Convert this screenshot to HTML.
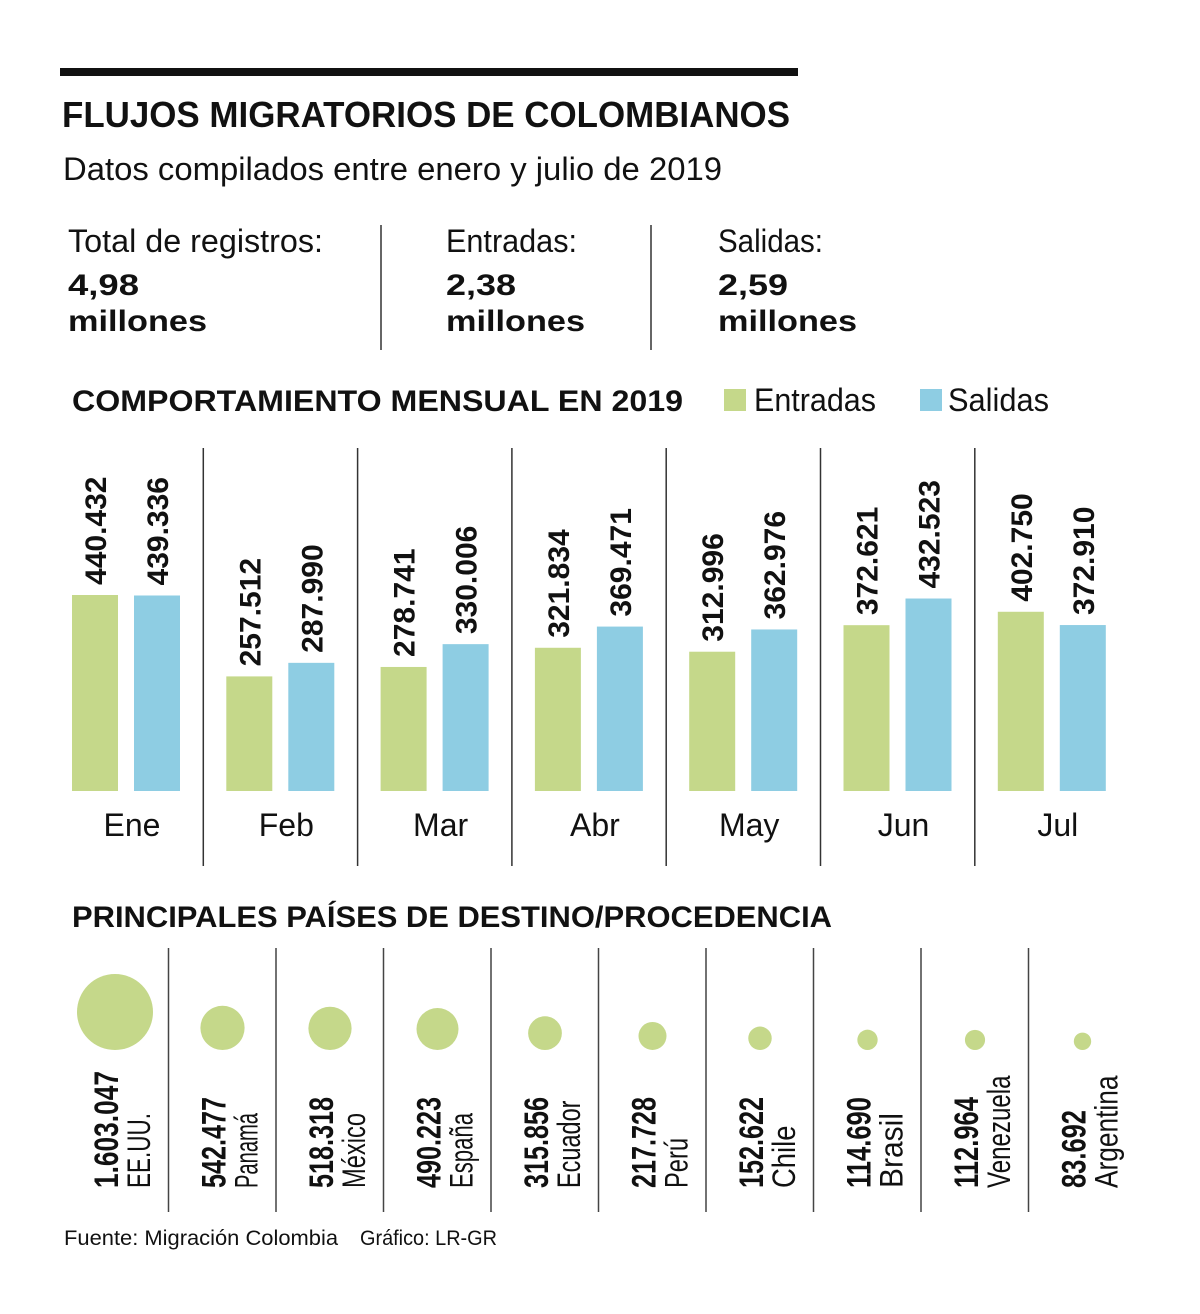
<!DOCTYPE html>
<html><head><meta charset="utf-8"><style>
html,body{margin:0;padding:0;background:#fff}
svg{display:block}
text{font-family:"Liberation Sans",sans-serif;fill:#111}
.b{font-weight:bold}
</style></head><body>
<svg id="c" width="1200" height="1314" viewBox="0 0 1200 1314">
<rect x="60" y="68" width="738" height="8" fill="#111"/>
<text x="62" y="127" font-size="36" class="b" textLength="728" lengthAdjust="spacingAndGlyphs">FLUJOS MIGRATORIOS DE COLOMBIANOS</text>
<text x="63" y="180" font-size="32" textLength="659" lengthAdjust="spacingAndGlyphs" fill="#222">Datos compilados entre enero y julio de 2019</text>

<g>
<text x="68" y="252" font-size="32" textLength="255" lengthAdjust="spacingAndGlyphs">Total de registros:</text>
<text x="68" y="295" font-size="30" class="b" textLength="71" lengthAdjust="spacingAndGlyphs">4,98</text>
<text x="68" y="331" font-size="30" class="b" textLength="139" lengthAdjust="spacingAndGlyphs">millones</text>
</g>
<line x1="381" y1="225" x2="381" y2="350" stroke="#333" stroke-width="1.5"/>
<g>
<text x="446" y="252" font-size="32" textLength="131" lengthAdjust="spacingAndGlyphs">Entradas:</text>
<text x="446" y="295" font-size="30" class="b" textLength="70" lengthAdjust="spacingAndGlyphs">2,38</text>
<text x="446" y="331" font-size="30" class="b" textLength="139" lengthAdjust="spacingAndGlyphs">millones</text>
</g>
<line x1="651" y1="225" x2="651" y2="350" stroke="#333" stroke-width="1.5"/>
<g>
<text x="718" y="252" font-size="32" textLength="105" lengthAdjust="spacingAndGlyphs">Salidas:</text>
<text x="718" y="295" font-size="30" class="b" textLength="70" lengthAdjust="spacingAndGlyphs">2,59</text>
<text x="718" y="331" font-size="30" class="b" textLength="139" lengthAdjust="spacingAndGlyphs">millones</text>
</g>

<text x="72" y="411" font-size="30" class="b" textLength="611" lengthAdjust="spacingAndGlyphs">COMPORTAMIENTO MENSUAL EN 2019</text>
<g>
<rect x="724" y="389" width="22" height="22" fill="#c5d88a"/>
<text x="754" y="411" font-size="32" textLength="122" lengthAdjust="spacingAndGlyphs">Entradas</text>
</g>
<g>
<rect x="920" y="389" width="22" height="22" fill="#8ecde3"/>
<text x="948" y="411" font-size="32" textLength="101" lengthAdjust="spacingAndGlyphs">Salidas</text>
</g>
<g id="bars"></g>

<text x="72" y="927" font-size="30" class="b" textLength="760" lengthAdjust="spacingAndGlyphs">PRINCIPALES PAÍSES DE DESTINO/PROCEDENCIA</text>
<g id="bubbles"></g>

<text x="64" y="1245" font-size="21" fill="#222" textLength="274" lengthAdjust="spacingAndGlyphs">Fuente: Migración Colombia</text>
<text x="360" y="1245" font-size="21" fill="#222" textLength="137" lengthAdjust="spacingAndGlyphs">Gráfico: LR-GR</text>
</svg>
<script>
const months = ["Ene","Feb","Mar","Abr","May","Jun","Jul"];
const entradas = [440432,257512,278741,321834,312996,372621,402750];
const salidas = [439336,287990,330006,369471,362976,432523,372910];
const entradasLabels = ["440.432","257.512","278.741","321.834","312.996","372.621","402.750"];
const salidasLabels = ["439.336","287.990","330.006","369.471","362.976","432.523","372.910"];
const countries = ["EE.UU.","Panamá","México","España","Ecuador","Perú","Chile","Brasil","Venezuela","Argentina"];
const countryValues = [1603047,542477,518318,490223,315856,217728,152622,114690,112964,83692];
const countryLabels = ["1.603.047","542.477","518.318","490.223","315.856","217.728","152.622","114.690","112.964","83.692"];

const NS="http://www.w3.org/2000/svg";
function mk(tag,attrs,parent){const e=document.createElementNS(NS,tag);for(const k in attrs)e.setAttribute(k,attrs[k]);parent.appendChild(e);return e;}
const base=791, scaleY=v=>v*196/440432;
const gx=i=>72+i*154.3;
const barsG=document.getElementById('bars');
months.forEach((m,i)=>{
  const x=gx(i);
  if(i>0){const l=mk('line',{x1:x-23,y1:448,x2:x-23,y2:866,stroke:'#333','stroke-width':1.5},barsG);
    
    }
  [[entradas,entradasLabels,'#c5d88a',0,'entradas'],[salidas,salidasLabels,'#8ecde3',62,'salidas']].forEach(([arr,lab,col,off,nm])=>{
    const h=scaleY(arr[i]);
    const r=mk('rect',{x:x+off,y:base-h,width:46,height:h,fill:col},barsG);
    
    
    const cx=x+off+23+11, by=base-h-10;
    const t=mk('text',{x:0,y:0,'font-size':30,'font-weight':'bold',transform:`translate(${cx},${by}) rotate(-90)`,textLength:lab[i].length*15.5,lengthAdjust:'spacingAndGlyphs'},barsG);
    t.textContent=lab[i];
    
    
  });
  const t=mk('text',{x:x+60,y:836,'font-size':32,'text-anchor':'middle',fill:'#222'},barsG);
  t.textContent=m;
  
  
});
const bubG=document.getElementById('bubbles');
const rMax=38, bx=i=>115+i*107.5;
countries.forEach((c,i)=>{
  const x=bx(i);
  if(i>0){const l=mk('line',{x1:x-54,y1:948,x2:x-54,y2:1212,stroke:'#444','stroke-width':1.5},bubG);
    
    }
  const r=rMax*Math.sqrt(countryValues[i]/countryValues[0]);
  const ci=mk('circle',{cx:x,cy:1050-r,r:r,fill:'#c5d88a'},bubG);
  
  
  const t=mk('text',{x:0,y:0,'font-size':34,'font-weight':'bold',transform:`translate(${x+3},1188) rotate(-90)`,textLength:countryLabels[i].length*13,lengthAdjust:'spacingAndGlyphs'},bubG);
  t.textContent=countryLabels[i];
  
  
  const n=mk('text',{x:0,y:0,'font-size':32,fill:'#222',transform:`translate(${x+35},1188) rotate(-90)`,textLength:c.length*12.5,lengthAdjust:'spacingAndGlyphs'},bubG);
  n.textContent=c;
  
  
});
</script>
</body></html>
